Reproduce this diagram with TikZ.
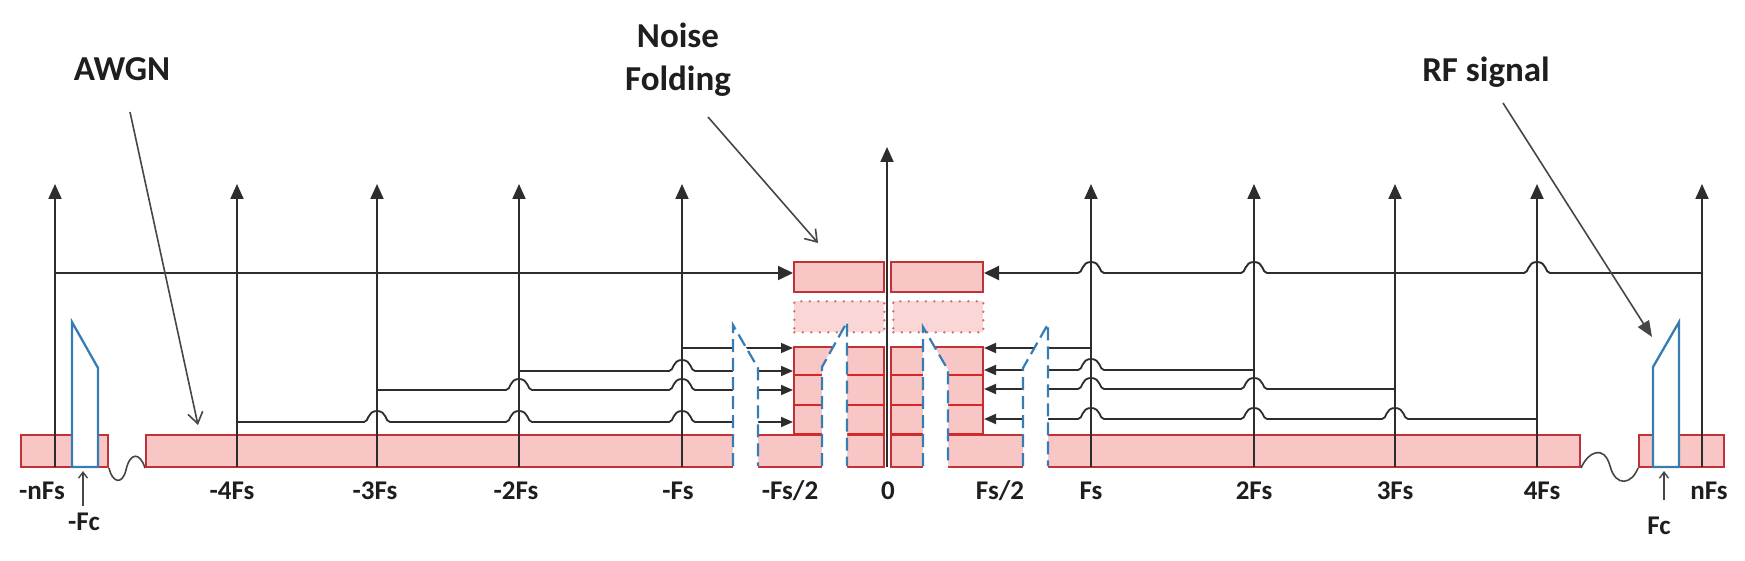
\documentclass[tikz,border=0pt]{standalone}
\usepackage{fontspec}
\setmainfont{Carlito}
\usetikzlibrary{arrows.meta}
\definecolor{bandfill}{RGB}{249,198,198}
\definecolor{bandline}{RGB}{192,50,54}
\definecolor{stackred}{RGB}{214,38,38}
\definecolor{dotfill}{RGB}{251,214,214}
\definecolor{dotline}{RGB}{200,112,112}
\definecolor{filtblue}{RGB}{55,125,180}
\definecolor{axisgray}{RGB}{45,45,45}
\definecolor{ptrgray}{RGB}{70,70,70}
\definecolor{txt}{RGB}{30,30,30}
\begin{document}
\begin{tikzpicture}[x=1pt,y=-1pt,
  hopR/.style args={#1/#2}{insert path={-- (#1-13,#2) .. controls (#1-8,#2) and (#1-10,#2-11) .. (#1,#2-11) .. controls (#1+10,#2-11) and (#1+8,#2) .. (#1+13,#2)}},
  hopL/.style args={#1/#2}{insert path={-- (#1+13,#2) .. controls (#1+8,#2) and (#1+10,#2-11) .. (#1,#2-11) .. controls (#1-10,#2-11) and (#1-8,#2) .. (#1-13,#2)}},
  axis/.style={draw=axisgray, line width=2pt, -{Triangle[length=15pt,width=13pt]}},
  conn/.style={draw=axisgray, line width=1.8pt, -{Triangle[length=12pt,width=10pt]}},
  bigconn/.style={draw=axisgray, line width=1.9pt, -{Triangle[length=15pt,width=14pt]}},
  band/.style={fill=bandfill, draw=bandline, line width=2pt, inner sep=0pt, anchor=north west},
  stackline/.style={draw=stackred, line width=2.3pt},
  dotbox/.style={fill=dotfill, draw=dotline, line width=2.6pt, dash pattern=on 0pt off 8.5pt, line cap=round, inner sep=0pt, anchor=north west},
  filt/.style={draw=filtblue, line width=2.2pt, dash pattern=on 13pt off 6pt},
  pulse/.style={draw=filtblue, line width=2.3pt, fill=white, line join=miter},
  lbl/.style={font=\fontsize{27}{30}\selectfont\bfseries, text=txt, inner sep=0pt, anchor=base},
  ann/.style={font=\fontsize{35}{43}\selectfont\bfseries, text=txt, inner sep=0pt, align=center},
  pointer/.style={draw=ptrgray, line width=1.6pt},
  fcarrow/.style={draw=ptrgray, line width=1.4pt, -{Straight Barb[length=6pt,width=9pt]}}
]
\useasboundingbox (0,0) rectangle (1745,561);

% noise bands
\node[band, minimum width=87pt, minimum height=32pt] (smallL) at (20,434) {};
\node[band, minimum width=738pt, minimum height=32pt] (bandL) at (145,434) {};
\node[band, minimum width=689pt, minimum height=32pt] (bandR) at (890,434) {};
\node[band, minimum width=85pt, minimum height=32pt] (smallR) at (1638,434) {};

% wavy breaks
\draw[ptrgray, line width=1.6pt] (smallL.south east) .. controls (112,482) and (122,486) .. (126,470) .. controls (130,452) and (140,452) .. (bandL.south west);
\draw[ptrgray, line width=1.6pt] (bandR.south east) .. controls (1588,452) and (1604,444) .. (1610,466) .. controls (1616,488) and (1632,484) .. (smallR.south west);

% folded stacks
\node[band, minimum width=90pt, minimum height=88pt] (stackL) at (793,346) {};
\node[band, minimum width=92pt, minimum height=88pt] (stackR) at (890,346) {};
\draw[stackline] (stackL.west |- 0,375) -- (stackL.east |- 0,375);
\draw[stackline] (stackL.west |- 0,405) -- (stackL.east |- 0,405);
\draw[stackline] (stackL.west |- 0,434) -- (stackL.east |- 0,434);
\draw[stackline] (stackR.west |- 0,375) -- (stackR.east |- 0,375);
\draw[stackline] (stackR.west |- 0,405) -- (stackR.east |- 0,405);
\draw[stackline] (stackR.west |- 0,434) -- (stackR.east |- 0,434);

% dotted boxes
\node[dotbox, minimum width=90pt, minimum height=31pt] (dotL) at (793,300) {};
\node[dotbox, minimum width=90pt, minimum height=31pt] (dotR) at (892,300) {};

% top folded boxes
\node[band, minimum width=90pt, minimum height=30pt] (topL) at (793,261) {};
\node[band, minimum width=92pt, minimum height=30pt] (topR) at (890,261) {};

% spectral axes
\foreach \x/\n in {55/a,237/b,377/c,519/d,682/e,1091/f,1254/g,1395/h,1537/i,1702/j} {
  \coordinate (base\n) at (\x,467);
  \coordinate (tip\n) at (\x,184);
  \draw[axis] (base\n) -- (tip\n);
}

% folding connectors, top
\coordinate (h0) at (55,273);
\coordinate (h1) at (1702,273);
\draw[bigconn] (h0) -- (h0 -| topL.west);
\draw[bigconn] (h1) [hopL=1537/273] [hopL=1254/273] [hopL=1091/273] -- (h1 -| topR.east);

% folding connectors, left
\coordinate (l1) at (682,348);
\coordinate (l2) at (519,371);
\coordinate (l3) at (377,390);
\coordinate (l4) at (237,422);
\draw[conn] (l1) -- (l1 -| stackL.west);
\draw[conn] (l2) [hopR=682/371] -- (l2 -| stackL.west);
\draw[conn] (l3) [hopR=519/390] [hopR=682/390] -- (l3 -| stackL.west);
\draw[conn] (l4) [hopR=377/422] [hopR=519/422] [hopR=682/422] -- (l4 -| stackL.west);

% folding connectors, right
\coordinate (r1) at (1091,348);
\coordinate (r2) at (1254,370);
\coordinate (r3) at (1395,389);
\coordinate (r4) at (1537,419);
\draw[conn] (r1) -- (r1 -| stackR.east);
\draw[conn] (r2) [hopL=1091/370] -- (r2 -| stackR.east);
\draw[conn] (r3) [hopL=1254/389] [hopL=1091/389] -- (r3 -| stackR.east);
\draw[conn] (r4) [hopL=1395/419] [hopL=1254/419] [hopL=1091/419] -- (r4 -| stackR.east);

% aliased signal images (dashed)
\fill[white] (733,468) -- (733,325) -- (758,368) -- (758,468) -- cycle;
\draw[filt] (733,466) -- (733,325) -- (758,368) -- (758,466);
\fill[white] (822,468) -- (822,367) -- (847,322) -- (847,468) -- cycle;
\draw[filt] (822,466) -- (822,367) -- (847,322) -- (847,466);
\fill[white] (923,468) -- (923,327) -- (948,370) -- (948,468) -- cycle;
\draw[filt] (923,466) -- (923,327) -- (948,370) -- (948,466);
\fill[white] (1023,468) -- (1023,368) -- (1048,324) -- (1048,468) -- cycle;
\draw[filt] (1023,466) -- (1023,368) -- (1048,324) -- (1048,466);

% zero axis
\coordinate (base0) at (887,467);
\coordinate (tip0) at (887,147);
\draw[axis] (base0) -- (tip0);

% RF signal pulses
\draw[pulse] (72,467) -- (72,322) -- (98,368) -- (98,467) -- cycle;
\draw[pulse] (1653,467) -- (1653,367) -- (1679,322) -- (1679,467) -- cycle;

% Fc markers
\coordinate (fcl) at (83,506);
\coordinate (fclt) at (83,471);
\coordinate (fcr) at (1664,500);
\coordinate (fcrt) at (1664,471);
\draw[fcarrow] (fcl) -- (fclt);
\draw[fcarrow] (fcr) -- (fcrt);

% tick labels
\node[lbl] (tnFsm) at (42,499) {-nFs};
\node[lbl] (t4m) at (232,499) {-4Fs};
\node[lbl] (t3m) at (375,499) {-3Fs};
\node[lbl] (t2m) at (516,499) {-2Fs};
\node[lbl] (t1m) at (678,499) {-Fs};
\node[lbl] (thm) at (790,499) {-Fs/2};
\node[lbl] (t0) at (888,499) {0};
\node[lbl] (thp) at (1000,499) {Fs/2};
\node[lbl] (t1p) at (1091,499) {Fs};
\node[lbl] (t2p) at (1254,499) {2Fs};
\node[lbl] (t3p) at (1395,499) {3Fs};
\node[lbl] (t4p) at (1542,499) {4Fs};
\node[lbl] (tnFsp) at (1709,499) {nFs};
\node[lbl] (tfcm) at (84,530) {-Fc};
\node[lbl] (tfcp) at (1659,534) {Fc};

% annotations
\node[ann] (awgn) at (122,69) {AWGN};
\node[ann] (nf) at (678,60) {Noise\\Folding};
\node[ann] (rf) at (1486,72) {RF signal};
\coordinate (awgnS) at (130,112);
\coordinate (awgnE) at (198,425);
\coordinate (nfS) at (708,117);
\coordinate (nfE) at (818,243);
\coordinate (rfS) at (1503,103);
\coordinate (rfE) at (1652,337);
\draw[pointer, -{Straight Barb[length=11pt,width=15pt]}] (awgnS) -- (awgnE);
\draw[pointer, -{Straight Barb[length=11pt,width=15pt]}] (nfS) -- (nfE);
\draw[pointer, -{Triangle[length=16pt,width=13pt]}] (rfS) -- (rfE);
\end{tikzpicture}
\end{document}
